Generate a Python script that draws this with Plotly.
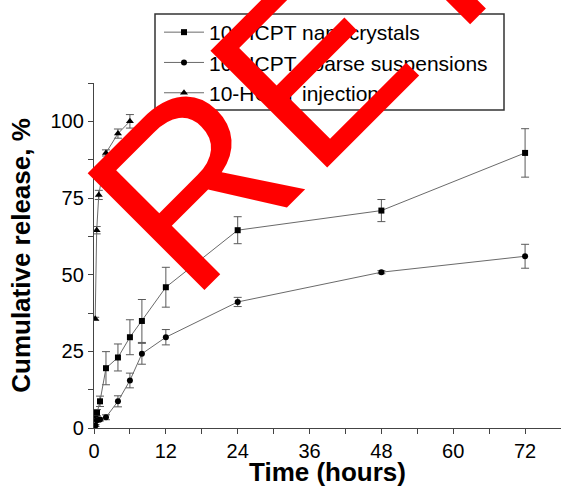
import plotly.graph_objects as go

# ---- data ----
time_h = [0.25, 0.5, 1, 2, 4, 6, 8, 12, 24, 48, 72]
nano = [3.0, 5.0, 8.7, 19.5, 23.0, 29.6, 34.9, 45.9, 64.5, 70.9, 89.7]
nano_err = [0.6, 1.0, 1.7, 5.4, 4.4, 5.7, 7.0, 6.5, 4.4, 3.6, 7.9]
coarse = [0.8, 2.5, 2.8, 3.5, 8.7, 15.5, 24.2, 29.6, 41.1, 50.8, 56.0]
coarse_err = [0.3, 0.5, 0.5, 0.8, 1.8, 2.4, 3.4, 2.5, 1.5, 0.5, 3.9]
inj_time = [0.2, 0.45, 0.8, 2, 4, 6]
inj = [35.6, 64.5, 76.0, 89.7, 96.0, 100.0]
inj_err = [0.5, 1.2, 1.5, 1.0, 1.5, 2.2]

names = ["10-HCPT nanocrystals", "10-HCPT coarse suspensions", "10-HCPT injection"]
x_ticks = [0, 12, 24, 36, 48, 60, 72]
y_ticks = [0, 25, 50, 75, 100]
watermark = "RETRACTED"

FONT = "Liberation Sans, Arial, sans-serif"
LINE_C = "#6a6a6a"
ERR_C = "#5a5a5a"

PLOT_L, PLOT_W, PLOT_B, PLOT_H = 94, 467, 428, 345


def px_to_paper(px, py):
    return (px - PLOT_L) / PLOT_W, (PLOT_B - py) / PLOT_H


def trace(x, y, e, name, symbol, size):
    return go.Scatter(
        x=x, y=y, name=name, mode="lines+markers",
        line=dict(color=LINE_C, width=1),
        marker=dict(symbol=symbol, size=size, color="black"),
        error_y=dict(type="data", array=e, visible=True, color=ERR_C,
                     thickness=1, width=4),
    )

fig = go.Figure()
fig.add_trace(trace(time_h, nano, nano_err, names[0], "square", 6))
fig.add_trace(trace(time_h, coarse, coarse_err, names[1], "circle", 6))
fig.add_trace(trace(inj_time, inj, inj_err, names[2], "triangle-up", 7))

axis_common = dict(
    showline=True, linecolor="#444", linewidth=1.3, showgrid=False,
    zeroline=False, ticks="outside", ticklen=5, tickwidth=1.2,
    tickcolor="#444", tickfont=dict(size=20, color="black", family=FONT),
)

lx, ly = px_to_paper(159, 12)
fig.update_layout(
    width=561, height=487,
    margin=dict(l=PLOT_L, r=0, t=83, b=59, autoexpand=False),
    paper_bgcolor="white", plot_bgcolor="white",
    font=dict(family=FONT, color="black"),
    xaxis=dict(range=[0, 78], tickvals=x_ticks,
               minor=dict(dtick=6, tick0=0, ticks="outside", ticklen=5,
                          tickwidth=1.2, tickcolor="#444"),
               title=dict(text="<b>Time (hours)</b>", font=dict(size=26),
                          standoff=5),
               **axis_common),
    yaxis=dict(range=[0, 112.5], tickvals=y_ticks,
               minor=dict(dtick=12.5, tick0=0, ticks="outside", ticklen=5,
                          tickwidth=1.2, tickcolor="#444"),
               title=dict(text="<b>Cumulative release, %</b>", font=dict(size=26),
                          standoff=12),
               **axis_common),
    legend=dict(x=lx, y=ly, xanchor="left", yanchor="top",
                font=dict(size=21, color="black"),
                borderwidth=0, bgcolor="rgba(0,0,0,0)",
                tracegroupgap=0, itemwidth=40),
    showlegend=True,
)

# legend frame
x0, y0 = px_to_paper(155, 110)
x1, y1 = px_to_paper(504, 14)
fig.add_shape(type="rect", xref="paper", yref="paper", x0=x0, y0=y0, x1=x1, y1=y1,
              line=dict(color="#333", width=1.5), fillcolor="white", layer="above")

wx, wy = px_to_paper(34, 343)
fig.add_annotation(
    text=watermark, xref="paper", yref="paper",
    x=wx, y=wy,
    xanchor="left", yanchor="bottom", showarrow=False,
    textangle=-45, font=dict(size=240, color="#ff0000", family=FONT),
)

fig.write_html("out.html")
